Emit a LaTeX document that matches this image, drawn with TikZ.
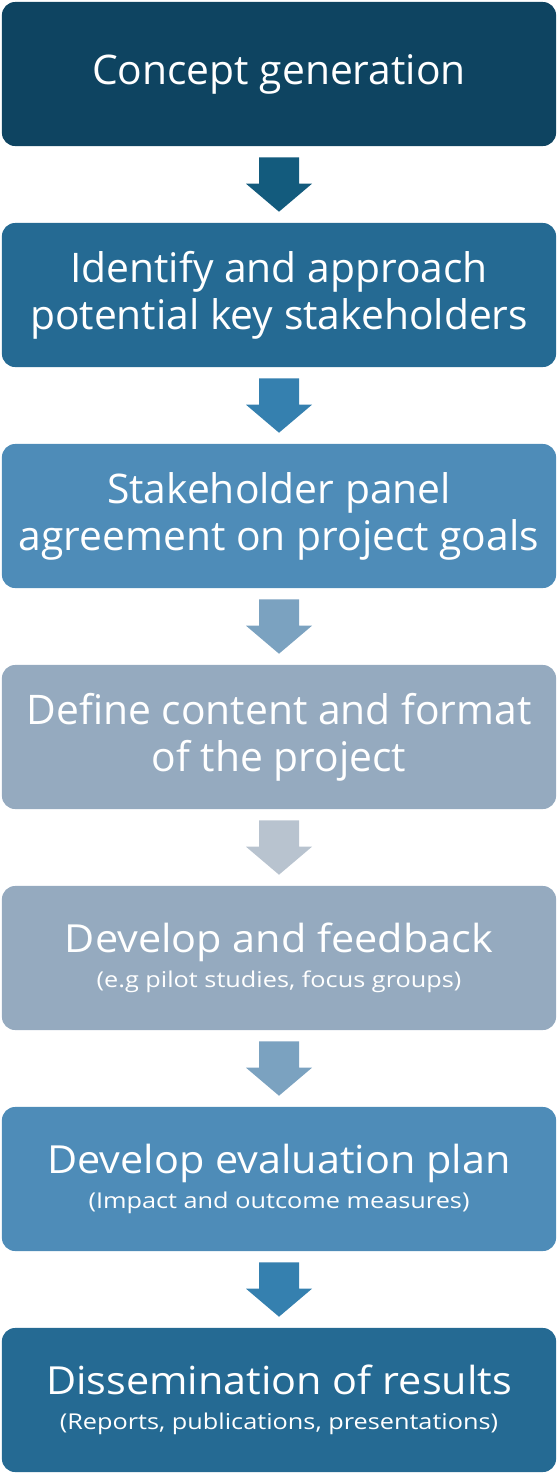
\documentclass[tikz,border=0pt]{standalone}
\usepackage{fontspec}
\setmainfont{Open Sans}
\newfontfamily\wideface[FakeStretch=1.07]{Open Sans}
\newfontfamily\subface[FakeStretch=1.16]{Open Sans}
\usetikzlibrary{calc}
\definecolor{stepA}{RGB}{14,68,97}
\definecolor{stepB}{RGB}{37,106,147}
\definecolor{stepC}{RGB}{78,140,184}
\definecolor{stepD}{RGB}{149,170,191}
\definecolor{flowA}{RGB}{19,91,125}
\definecolor{flowB}{RGB}{53,128,175}
\definecolor{flowC}{RGB}{123,162,192}
\definecolor{flowD}{RGB}{184,195,207}
\tikzset{
  % ---- boxes ------------------------------------------------------------
  stage/.style={
    rounded corners=0.33cm, draw=none, text=white, align=center,
    minimum width=13.85cm, minimum height=3.6cm, inner sep=0pt,
    font=\fontsize{29}{33.4}\selectfont},
  stagew/.style={stage, font=\wideface\fontsize{27.5}{30}\selectfont},
}
\newcommand{\subline}[1]{{\subface\fontsize{15.5}{18}\selectfont#1}}

\begin{document}
\begin{tikzpicture}[x=0.025cm,y=-0.025cm]
\useasboundingbox (0,0) rectangle (558,1476);

\node[stage,  fill=stepA] (concept)  at (279,74)   {Concept generation};
\node[stage,  fill=stepB] (identify) at (279,295)  {Identify and approach\\ potential key stakeholders};
\node[stage,  fill=stepC] (panel)    at (279,516)  {Stakeholder panel\\ agreement on project goals};
\node[stage,  fill=stepD] (define)   at (279,737)  {Define content and format\\ of the project};
\node[stagew, fill=stepD] (develop)  at (279,958)
  {Develop and feedback\\[-5pt] \subline{(e.g pilot studies, focus groups)}};
\node[stagew, fill=stepC] (evaluate) at (279,1179)
  {Develop evaluation plan\\[-5pt] \subline{(Impact and outcome measures)}};
\node[stagew, fill=stepB] (dissem)   at (279,1400)
  {Dissemination of results\\[-5pt] \subline{(Reports, publications, presentations)}};

% block arrows between the stages
\newcommand{\flow}[3]{%
  \fill[#3] ($(#1.south)+(-20,11)$) -- ($(#1.south)+(20,11)$)
    -- ($(#2.north)+(20,-39)$) -- ($(#2.north)+(33,-39)$)
    -- ($(#2.north)+(0,-11)$) -- ($(#2.north)+(-33,-39)$)
    -- ($(#2.north)+(-20,-39)$) -- cycle;}
\foreach \a/\b/\c in {concept/identify/flowA, identify/panel/flowB,
  panel/define/flowC, define/develop/flowD, develop/evaluate/flowC,
  evaluate/dissem/flowB} { \flow{\a}{\b}{\c} }

\end{tikzpicture}
\end{document}
